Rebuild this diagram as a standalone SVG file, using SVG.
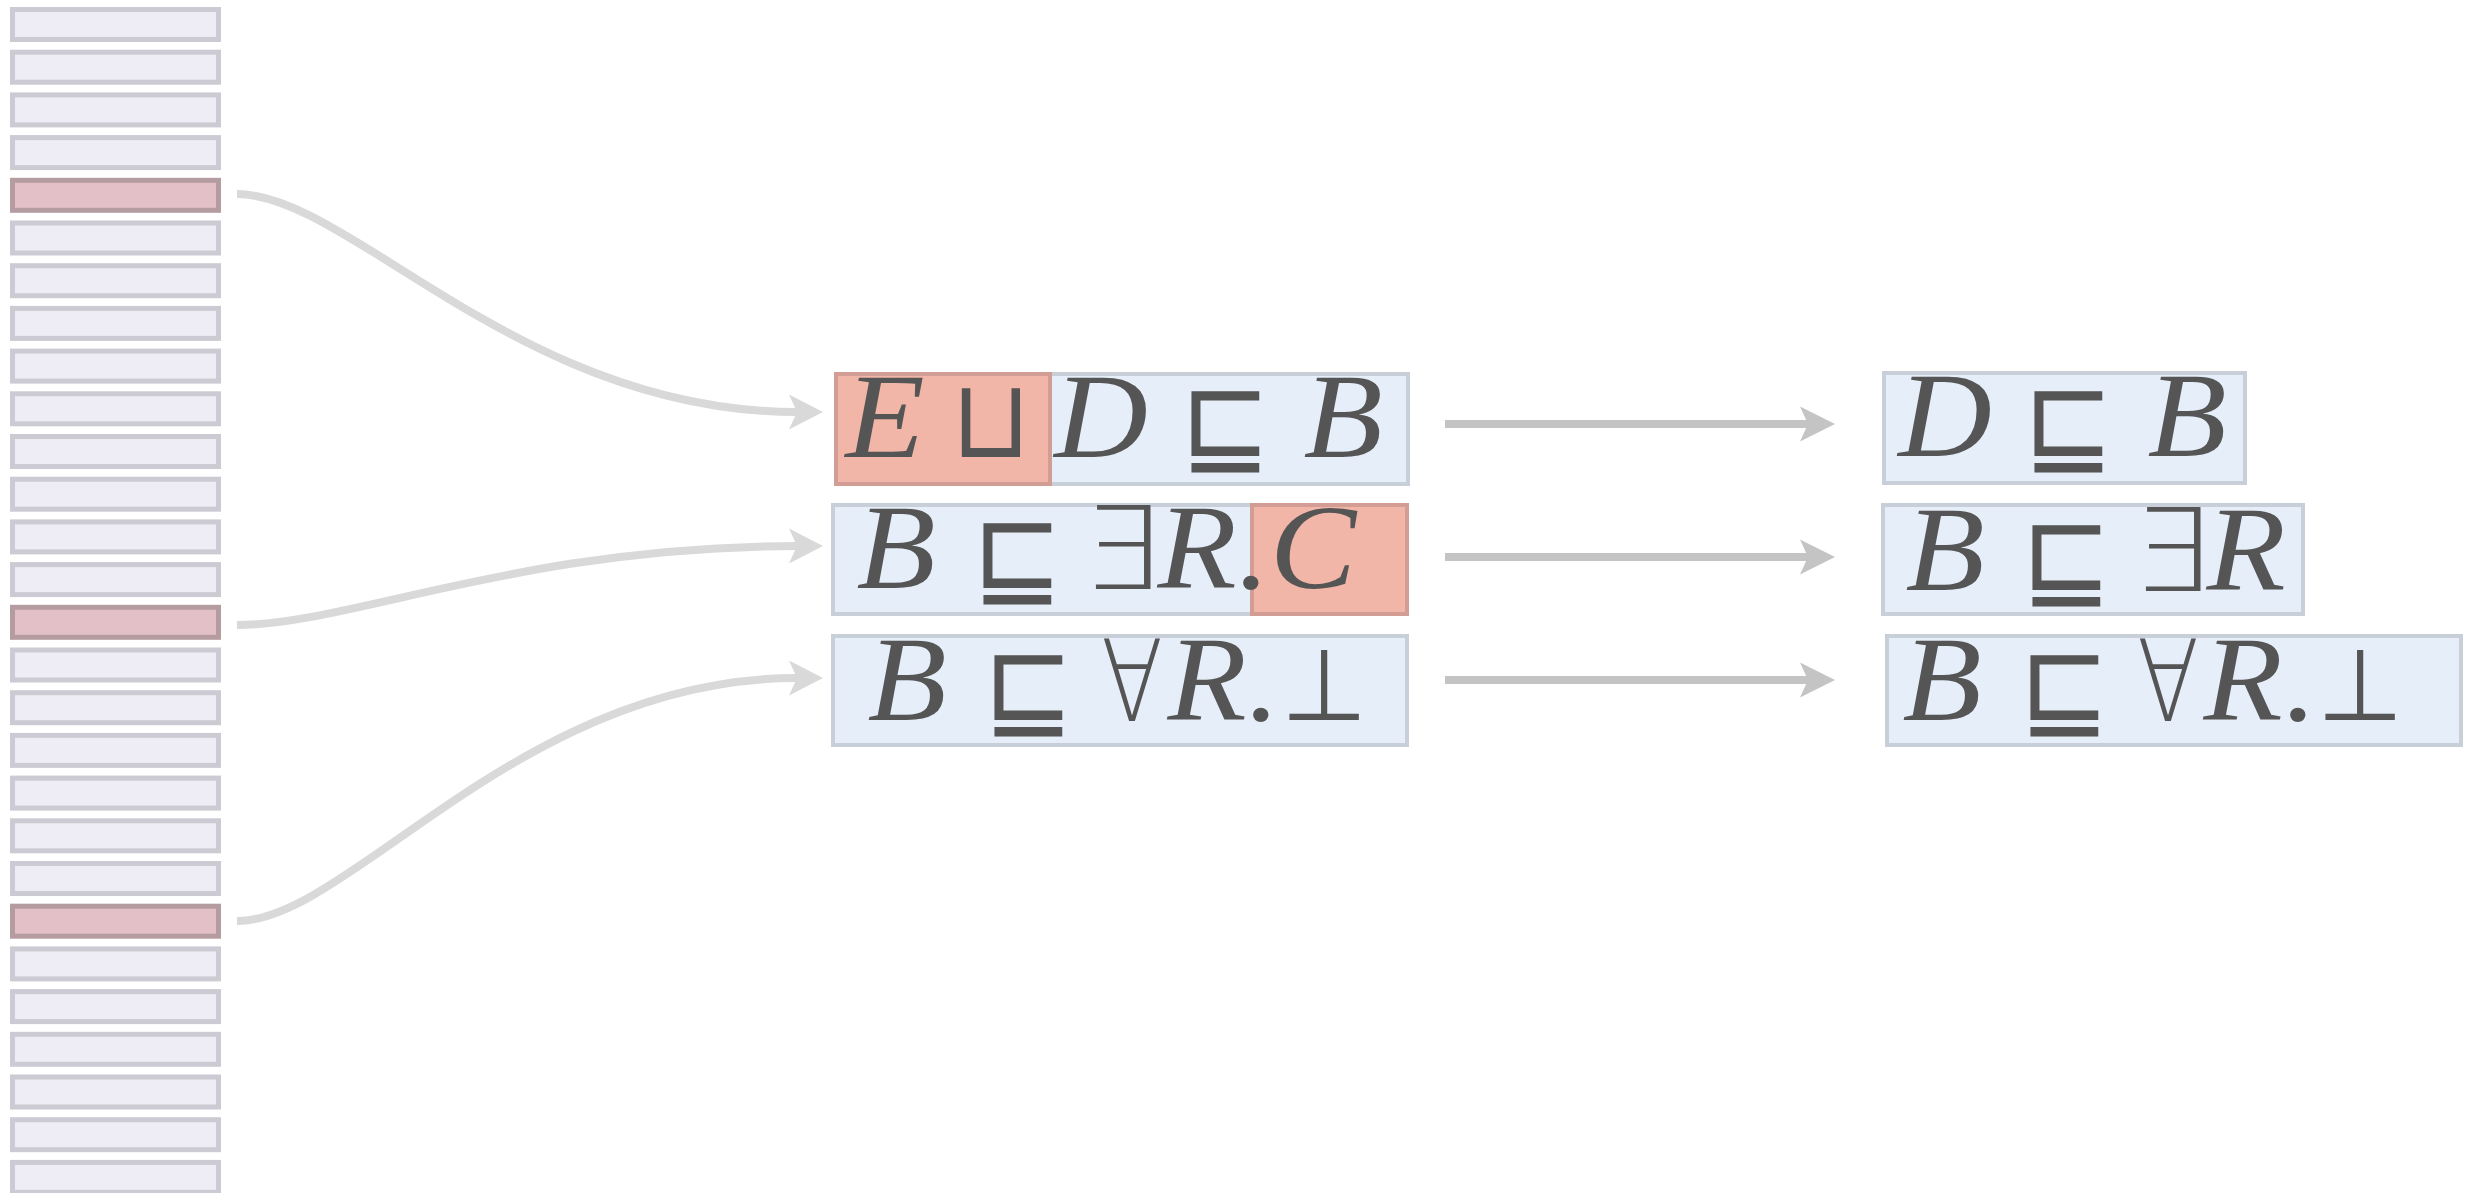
<svg xmlns="http://www.w3.org/2000/svg" width="2476" height="1193" viewBox="0 0 2476 1193">
<style>
.sb{fill:#eeecf5;stroke:#cccbd3;stroke-width:5}
.sr{fill:#e3c0c7;stroke:#b49ca1;stroke-width:5}
.bb{fill:#e6eef9;stroke:#c9cfd9;stroke-width:4}
.rb{fill:#f1b6a7;stroke:#d29d94;stroke-width:4}
.v{font-family:"Liberation Serif",serif;font-style:italic;font-size:120px;fill:#555;text-anchor:middle}
.s{font-family:"DejaVu Sans",sans-serif;font-weight:200;font-size:96px;fill:#555;text-anchor:middle}
.curve{fill:none;stroke:#d9d9d9;stroke-width:8}
.straight{fill:none;stroke:#c4c4c4;stroke-width:8}
</style>
<defs>
<marker id="ac" markerUnits="userSpaceOnUse" markerWidth="40" markerHeight="40" viewBox="-36 -20 40 40" refX="-26" refY="0" orient="auto">
<path d="M0,0 L-34,-17.5 L-26,0 L-34,17.5 Z" fill="#d9d9d9"/>
</marker>
<marker id="as" markerUnits="userSpaceOnUse" markerWidth="40" markerHeight="40" viewBox="-36 -20 40 40" refX="-26" refY="0" orient="auto">
<path d="M0,0 L-35,-17.5 L-27,0 L-35,17.5 Z" fill="#c4c4c4"/>
</marker>
</defs>
<g id="strip">
<rect class="sb" x="12.5" y="9.5" width="206" height="30"/>
<rect class="sb" x="12.5" y="52.2" width="206" height="30"/>
<rect class="sb" x="12.5" y="94.9" width="206" height="30"/>
<rect class="sb" x="12.5" y="137.6" width="206" height="30"/>
<rect class="sr" x="12.5" y="180.3" width="206" height="30"/>
<rect class="sb" x="12.5" y="223" width="206" height="30"/>
<rect class="sb" x="12.5" y="265.7" width="206" height="30"/>
<rect class="sb" x="12.5" y="308.4" width="206" height="30"/>
<rect class="sb" x="12.5" y="351.1" width="206" height="30"/>
<rect class="sb" x="12.5" y="393.8" width="206" height="30"/>
<rect class="sb" x="12.5" y="436.5" width="206" height="30"/>
<rect class="sb" x="12.5" y="479.2" width="206" height="30"/>
<rect class="sb" x="12.5" y="521.9" width="206" height="30"/>
<rect class="sb" x="12.5" y="564.6" width="206" height="30"/>
<rect class="sr" x="12.5" y="607.3" width="206" height="30"/>
<rect class="sb" x="12.5" y="650" width="206" height="30"/>
<rect class="sb" x="12.5" y="692.7" width="206" height="30"/>
<rect class="sb" x="12.5" y="735.4" width="206" height="30"/>
<rect class="sb" x="12.5" y="778.1" width="206" height="30"/>
<rect class="sb" x="12.5" y="820.8" width="206" height="30"/>
<rect class="sb" x="12.5" y="863.5" width="206" height="30"/>
<rect class="sr" x="12.5" y="906.2" width="206" height="30"/>
<rect class="sb" x="12.5" y="948.9" width="206" height="30"/>
<rect class="sb" x="12.5" y="991.6" width="206" height="30"/>
<rect class="sb" x="12.5" y="1034.3" width="206" height="30"/>
<rect class="sb" x="12.5" y="1077" width="206" height="30"/>
<rect class="sb" x="12.5" y="1119.7" width="206" height="30"/>
<rect class="sb" x="12.5" y="1162.4" width="206" height="30"/>
</g>
<g id="connectors">
<path class="curve" d="M237,194 C350,194 520,412 797,412" marker-end="url(#ac)"/>
<path class="curve" d="M237,625 C350,625 520,546 797,546" marker-end="url(#ac)"/>
<path class="curve" d="M237,921 C350,921 520,678 797,678" marker-end="url(#ac)"/>
<path class="straight" d="M1445,424 L1809,424" marker-end="url(#as)"/>
<path class="straight" d="M1445,557 L1809,557" marker-end="url(#as)"/>
<path class="straight" d="M1445,680 L1809,680" marker-end="url(#as)"/>
</g>
<g id="axiom1">
<rect class="bb" x="1050" y="374" width="358" height="110"/>
<rect class="rb" x="836" y="374" width="214" height="110"/>
<text class="v" transform="translate(885,457) scale(1.08,1)">E</text>
<text class="s" transform="translate(991,457) scale(1.07,1.15)">⊔</text>
<text class="v" transform="translate(1101,457) scale(1.08,1)">D</text>
<text class="s" transform="translate(1225,463) scale(1.13,1.19)">⊑</text>
<text class="v" transform="translate(1343,457) scale(1.08,1)">B</text>
</g>
<g id="axiom2">
<rect class="bb" x="833" y="505" width="419" height="109"/>
<rect class="rb" x="1252" y="505" width="155" height="109"/>
<text class="v" transform="translate(896,588) scale(1.08,1)">B</text>
<text class="s" transform="translate(1017,595) scale(1.13,1.19)">⊑</text>
<text class="s" transform="translate(1121,589) scale(1.35,1.2)">∃</text>
<text class="v" transform="translate(1197,588) scale(1.08,1)">R</text>
<text class="v" transform="translate(1254,588) scale(1.08,1)">.</text>
<text class="v" transform="translate(1313,588) scale(1.08,1)">C</text>
</g>
<g id="axiom3">
<rect class="bb" x="833" y="636" width="574" height="109"/>
<text class="v" transform="translate(907,720) scale(1.08,1)">B</text>
<text class="s" transform="translate(1028,727) scale(1.13,1.19)">⊑</text>
<text class="s" transform="translate(1132,721) scale(0.94,1.18)">∀</text>
<text class="v" transform="translate(1207,720) scale(1.08,1)">R</text>
<text class="v" transform="translate(1264,720) scale(1.08,1)">.</text>
<text class="s" transform="translate(1324,720) scale(1.03,1.04)">⊥</text>
</g>
<g id="result1">
<rect class="bb" x="1884" y="373" width="361" height="110"/>
<text class="v" transform="translate(1945,456) scale(1.08,1)">D</text>
<text class="s" transform="translate(2068,463) scale(1.13,1.19)">⊑</text>
<text class="v" transform="translate(2187,456) scale(1.08,1)">B</text>
</g>
<g id="result2">
<rect class="bb" x="1883" y="505" width="420" height="109"/>
<text class="v" transform="translate(1945,590) scale(1.08,1)">B</text>
<text class="s" transform="translate(2066,597) scale(1.13,1.19)">⊑</text>
<text class="s" transform="translate(2171,591) scale(1.35,1.2)">∃</text>
<text class="v" transform="translate(2246,590) scale(1.08,1)">R</text>
</g>
<g id="result3">
<rect class="bb" x="1887" y="636" width="574" height="109"/>
<text class="v" transform="translate(1942,720) scale(1.08,1)">B</text>
<text class="s" transform="translate(2064,727) scale(1.13,1.19)">⊑</text>
<text class="s" transform="translate(2168,721) scale(0.94,1.18)">∀</text>
<text class="v" transform="translate(2243,720) scale(1.08,1)">R</text>
<text class="v" transform="translate(2301,720) scale(1.08,1)">.</text>
<text class="s" transform="translate(2360,720) scale(1.03,1.04)">⊥</text>
</g>
</svg>
